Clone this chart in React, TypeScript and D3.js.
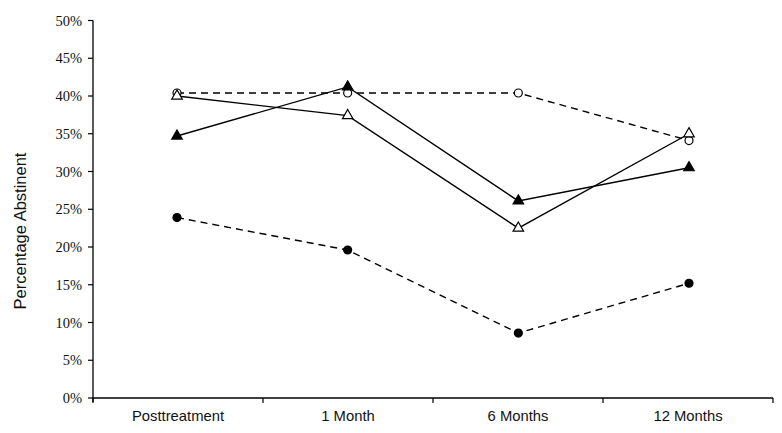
import React from "react";
import * as d3 from "d3";

const categories = ["Posttreatment", "1 Month", "6 Months", "12 Months"];
const yTicks = [0, 5, 10, 15, 20, 25, 30, 35, 40, 45, 50];

const openCircle = [40.4, 40.4, 40.4, 34.1];
const filledCircle = [23.9, 19.6, 8.6, 15.2];
const filledTriangle = [34.7, 41.2, 26.1, 30.5];
const openTriangle = [40.0, 37.4, 22.5, 35.0];

const series = [
  { name: "openCircle", values: openCircle, dashed: true, marker: "circle", filled: false },
  { name: "filledCircle", values: filledCircle, dashed: true, marker: "circle", filled: true },
  { name: "filledTriangle", values: filledTriangle, dashed: false, marker: "triangle", filled: true },
  { name: "openTriangle", values: openTriangle, dashed: false, marker: "triangle", filled: false },
];

const SERIF = "'Liberation Serif', 'Times New Roman', serif";
const SANS = "'Liberation Sans', Arial, sans-serif";

export default function App() {
  const W = 782, H = 433;
  const left = 93, right = 773, top = 20.5, bottom = 398;
  const y = d3.scaleLinear().domain([0, 50]).range([bottom, top]);
  const xBand = d3.scaleBand().domain(categories).range([left, right]);
  const xPt = d3.scalePoint().domain(categories).range([177, 689]);
  const line = d3.line<number>().x((_, i) => xPt(categories[i])!).y((d) => y(d));
  const tri = d3.symbol().type(d3.symbolTriangle).size(48)();
  const boundaries = [left, ...categories.map((c) => xBand(c)! + xBand.bandwidth())];

  return (
    <svg width={W} height={H} style={{ position: "absolute", left: 0, top: 0, background: "#fff" }}>
      <rect width={W} height={H} fill="#fff" />
      {/* y axis */}
      <line x1={left} x2={left} y1={top} y2={bottom + 4} stroke="#000" strokeWidth={1.3} />
      {yTicks.map((t) => (
        <g key={t}>
          <line x1={left - 5} x2={left} y1={y(t)} y2={y(t)} stroke="#000" strokeWidth={1.2} />
          <text x={82} y={y(t)} dy="0.35em" textAnchor="end" style={{ fontFamily: SERIF }} fontSize={14.5} fill="#111">
            {t}%
          </text>
        </g>
      ))}
      {/* x axis */}
      <line x1={left} x2={right} y1={bottom} y2={bottom} stroke="#000" strokeWidth={1.3} />
      {boundaries.map((b, i) => (
        <line key={i} x1={b} x2={b} y1={bottom} y2={bottom + 5} stroke="#000" strokeWidth={1.2} />
      ))}
      {categories.map((c) => (
        <text key={c} x={xBand(c)! + xBand.bandwidth() / 2} y={421} textAnchor="middle" style={{ fontFamily: SANS }} fontSize={14.8} fill="#111">
          {c}
        </text>
      ))}
      <text transform={`translate(26,231) rotate(-90)`} textAnchor="middle" style={{ fontFamily: SANS }} fontSize={16.5} fill="#111">
        Percentage Abstinent
      </text>
      {series.map((s) => (
        <g key={s.name}>
          <path d={line(s.values)!} fill="none" stroke="#000" strokeWidth={1.4} strokeDasharray={s.dashed ? "7,5" : undefined} />
          {s.values.map((v, i) => {
            const cx = xPt(categories[i])!;
            const cy = y(v);
            return s.marker === "circle" ? (
              <circle key={i} cx={cx} cy={cy} r={4} fill={s.filled ? "#000" : "#fff"} stroke="#000" strokeWidth={1.2} />
            ) : (
              <path key={i} d={tri!} transform={`translate(${cx},${cy})`} fill={s.filled ? "#000" : "#fff"} stroke="#000" strokeWidth={1.2} />
            );
          })}
        </g>
      ))}
    </svg>
  );
}
